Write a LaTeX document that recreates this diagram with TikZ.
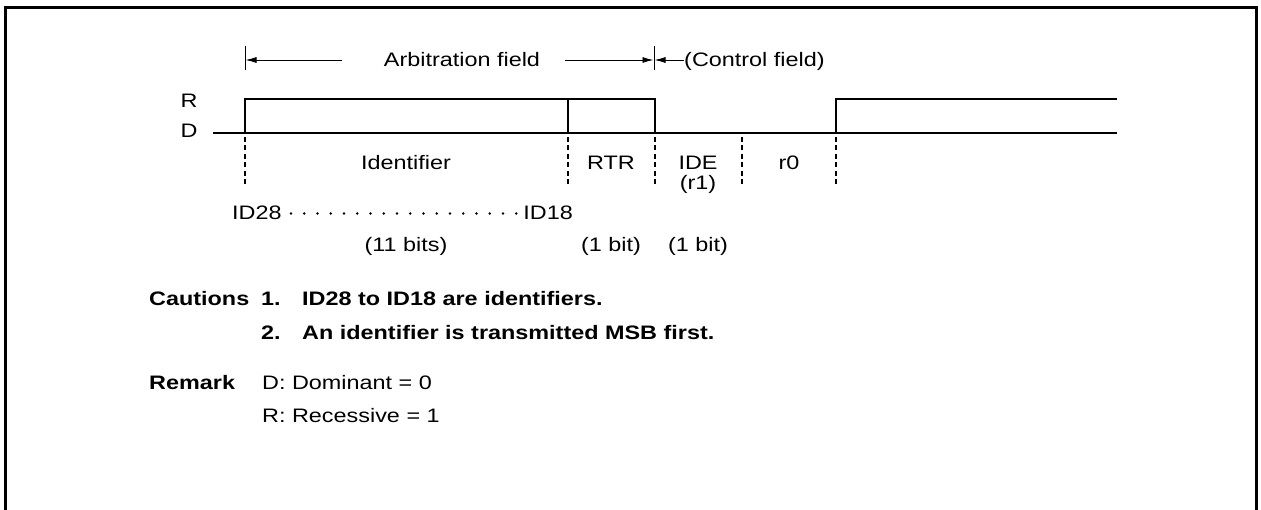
\documentclass[tikz,border=0pt]{standalone}
\usepackage{fontspec}
\setmainfont{Liberation Sans}[FakeStretch=1.2]
\usetikzlibrary{arrows.meta}
\begin{document}
\begin{tikzpicture}[x=1pt,y=-1pt,
  lbl/.style={font=\fontsize{19.5}{23}\selectfont, inner sep=0pt, anchor=base},
  lblw/.style={lbl, anchor=base west},
  lble/.style={lbl, anchor=base east},
  boldw/.style={lblw, font=\fontsize{19.5}{23}\selectfont\bfseries},
  wave/.style={line width=2.9pt, line join=miter, line cap=rect},
  guide/.style={line width=1.1pt, dash pattern=on 5pt off 3.5pt},
  dimline/.style={line width=0.9pt},
  dimarrow/.style={line width=0.9pt, -{Latex[length=11pt,width=6pt]}},
  dotmark/.style={fill, circle, inner sep=0pt, minimum size=2.6pt},
  frame/.style={line width=3pt}]
\useasboundingbox (0,0) rectangle (1261,510);
% frame (open at the bottom)
\draw[frame] (5.5,510) -- (5.5,7.5) -- (1256.5,7.5) -- (1256.5,510);

% field dimension arrows
\coordinate (t1a) at (245,46); \coordinate (t1b) at (245,70);
\coordinate (t2a) at (654,46); \coordinate (t2b) at (654,70);
\draw[dimline] (t1a) -- (t1b);
\draw[dimline] (t2a) -- (t2b);
\node[lbl] (arb) at (462,67) {Arbitration field};
\coordinate (a1s) at (342,60); \coordinate (a1e) at (245.5,60);
\coordinate (a2s) at (565,60); \coordinate (a2e) at (653.5,60);
\draw[dimarrow] (a1s) -- (a1e);
\draw[dimarrow] (a2s) -- (a2e);
\node[lblw] (ctrl) at (684,67) {(Control field)};
\coordinate (a3e) at (654.5,60);
\draw[dimarrow] (ctrl.west |- a3e) -- (a3e);

% level labels
\node[lbl] (R) at (189,108) {R};
\node[lbl] (D) at (189,138) {D};

% waveform
\coordinate (d0) at (214,133);
\coordinate (d1) at (1116,133);
\coordinate (e1b) at (245,133); \coordinate (e1t) at (245,99);
\coordinate (e2b) at (568,133); \coordinate (e2t) at (568,99);
\coordinate (e3b) at (655,133); \coordinate (e3t) at (655,99);
\coordinate (e5b) at (836,133); \coordinate (e5t) at (836,99);
\coordinate (r1) at (1116,99);
\draw[wave] (d0) -- (d1);
\draw[wave] (e1b) -- (e1t) -- (e3t) -- (e3b);
\draw[wave] (e2t) -- (e2b);
\draw[wave] (e5b) -- (e5t) -- (r1);

% bit boundaries
\foreach \x/\n in {245/g1,568/g2,655/g3,742/g4,836/g5}{
  \coordinate (\n t) at (\x,137);
  \coordinate (\n b) at (\x,185);
  \draw[guide] (\n t) -- (\n b);
}

% field names
\node[lbl] (ident) at (406,170) {Identifier};
\node[lbl] (rtr) at (611,170) {RTR};
\node[lbl] (ide) at (698,170) {IDE};
\node[lbl] (r1lbl) at (698,190) {(r1)};
\node[lbl] (r0) at (789,170) {r0};

\node[lblw] (id28) at (232,220) {ID28};
\node[lble] (id18) at (573,220) {ID18};
\foreach \i in {0,...,17}{
  \node[dotmark] (dot\i) at (291+13.25*\i,213.5) {};
}
\node[lbl] (b11) at (406,252) {(11 bits)};
\node[lbl] (b1a) at (611,252) {(1 bit)};
\node[lbl] (b1b) at (698,252) {(1 bit)};

% notes
\node[boldw] (caut) at (149,306) {Cautions};
\node[boldw] (n1) at (261,306) {1.};
\node[boldw] (c1) at (302,306) {ID28 to ID18 are identifiers.};
\node[boldw] (n2) at (261,340) {2.};
\node[boldw] (c2) at (302,340) {An identifier is transmitted MSB first.};
\node[boldw] (rem) at (149,390) {Remark};
\node[lblw] (rd) at (262,390) {D: Dominant = 0};
\node[lblw] (rr) at (262,423) {R: Recessive = 1};
\end{tikzpicture}
\end{document}
